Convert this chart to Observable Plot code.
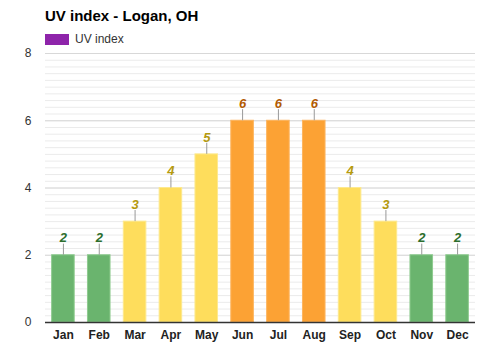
<!DOCTYPE html>
<html><head><meta charset="utf-8">
<script src="https://cdn.jsdelivr.net/npm/d3@7"></script>
<script src="https://cdn.jsdelivr.net/npm/@observablehq/plot@0.6"></script>
<style>
body{margin:0;background:#fff;font-family:Arial,"Liberation Sans",sans-serif;width:500px;height:350px;overflow:hidden}
#title{position:absolute;left:45px;top:7px;font-size:15px;font-weight:bold;color:#000}
#legend{position:absolute;left:45px;top:32px;font-size:12px;color:#333;display:flex;align-items:center}
#legend span.sw{display:inline-block;width:24px;height:11px;background:#8e24aa;margin-right:6px}
#chart{position:absolute;left:0;top:46px}
</style></head>
<body>
<div id="title">UV index - Logan, OH</div>
<div id="legend"><span class="sw"></span>UV index</div>
<div id="chart"></div>
<script>
const months = ["Jan","Feb","Mar","Apr","May","Jun","Jul","Aug","Sep","Oct","Nov","Dec"];
const uvValues = [2,2,3,4,5,6,6,6,4,3,2,2];
const yTicks = [0,2,4,6,8];

const data = months.map((m,i)=>({month:m, uv:uvValues[i]}));
const level = v => v <= 2 ? "low" : v <= 5 ? "mod" : "high";
const fillC = {low:"#6ab46e", mod:"#fedd5c", high:"#fca234"};
const strokeC = {low:"#8fcb90", mod:"#fde98e", high:"#fdb55f"};
const textC = {low:"#2d6e2d", mod:"#b59a10", high:"#b25a00"};
const minor = d3.range(0, 8.01, 0.2);

const plot = Plot.plot({
  width: 500, height: 304,
  marginLeft: 45, marginRight: 25, marginTop: 7, marginBottom: 28,
  style: {fontFamily: "Arial, 'Liberation Sans', sans-serif", fontSize: "12px", color:"#333"},
  x: {domain: months, paddingInner: 0.37, paddingOuter: 0.185, round: false, label: null, tickSize: 0},
  y: {domain: [0, 8], label: null, ticks: yTicks, tickSize: 0},
  marks: [
    Plot.ruleY(minor, {stroke: "#ebebeb", strokeWidth: 1}),
    Plot.ruleY(yTicks, {stroke: "#d8d8d8", strokeWidth: 1}),
    Plot.barY(data, {x: "month", y: "uv", fill: d => fillC[level(d.uv)], stroke: d => strokeC[level(d.uv)], strokeWidth: 1, inset: 0}),
    Plot.ruleX(data, {x: "month", y1: "uv", y2: d => d.uv + 0.33, stroke: "#999", strokeWidth: 1}),
    Plot.text(data, {x: "month", y: "uv", text: d => String(d.uv), dy: -17, fill: d => textC[level(d.uv)], fontWeight: "bold", fontStyle: "italic", fontSize: 13}),
    Plot.ruleY([0], {stroke: "#333", strokeWidth: 1.5}),
    Plot.axisX({tickSize: 0, fontWeight: "bold", fontSize: 12, fill: "#222", tickPadding: 8}),
    Plot.axisY({ticks: yTicks, tickSize: 0, fontSize: 12, fill: "#333", tickPadding: 14})
  ]
});
document.getElementById("chart").appendChild(plot);
</script>
</body></html>
